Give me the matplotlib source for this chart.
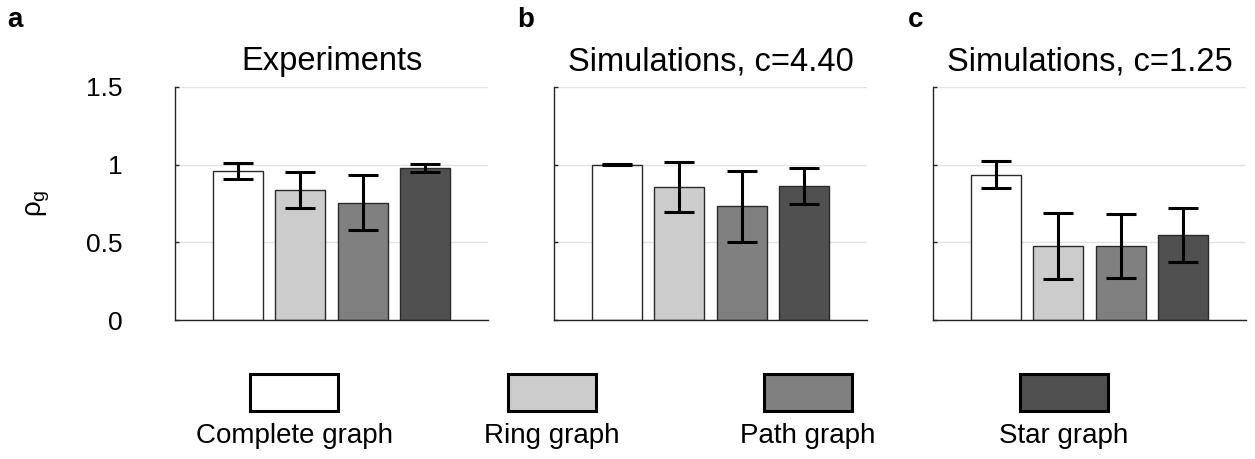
import numpy as np
import matplotlib
matplotlib.use("Agg")
import matplotlib.pyplot as plt
from matplotlib.patches import Rectangle

plt.rcParams["font.family"] = ["Liberation Sans", "DejaVu Sans"]
plt.rcParams["mathtext.fontset"] = "custom"
plt.rcParams["mathtext.rm"] = "Liberation Sans"
plt.rcParams["mathtext.it"] = "Liberation Sans"

GRAPHS = ["Complete graph", "Ring graph", "Path graph", "Star graph"]
COLORS = ["#ffffff", "#cccccc", "#808080", "#505050"]
PANELS = ["a", "b", "c"]
TITLES = ["Experiments", "Simulations, c=4.40", "Simulations, c=1.25"]

# mean rho_g and error half-widths per panel (complete, ring, path, star)
exp_mean = [0.957, 0.837, 0.755, 0.977]
exp_err = [0.052, 0.114, 0.177, 0.025]
sim440_mean = [1.000, 0.856, 0.732, 0.863]
sim440_err = [0.002, 0.159, 0.230, 0.116]
sim125_mean = [0.936, 0.476, 0.476, 0.547]
sim125_err = [0.087, 0.215, 0.207, 0.175]

MEANS = [exp_mean, sim440_mean, sim125_mean]
ERRS = [exp_err, sim440_err, sim125_err]

W, H = 1255, 459
fig = plt.figure(figsize=(W / 100, H / 100), dpi=100)

lefts = [175, 554, 933]
x = np.arange(1, 5)
for i, left in enumerate(lefts):
    ax = fig.add_axes([left / W, (H - 320) / H, 313 / W, 233 / H])
    ax.bar(x, MEANS[i], width=0.8, color=COLORS, edgecolor="#2a2a2a",
           linewidth=1.0, zorder=2)
    ax.errorbar(x, MEANS[i], yerr=ERRS[i], fmt="none", ecolor="black",
                elinewidth=2.2, capsize=11, capthick=2.2, zorder=3)
    ax.set_xlim(0, 5)
    ax.set_ylim(0, 1.5)
    ax.set_yticks([0, 0.5, 1, 1.5])
    ax.set_xticks([])
    ax.grid(axis="y", color="#e3e3e3", linewidth=1.0, zorder=0)
    ax.set_axisbelow(True)
    for s in ("top", "right"):
        ax.spines[s].set_visible(False)
    for s in ("left", "bottom"):
        ax.spines[s].set_color("#262626")
        ax.spines[s].set_linewidth(1.0)
    ax.tick_params(axis="y", direction="in", length=3, width=1.0,
                   color="#262626", pad=38, labelsize=19)
    if i == 0:
        ax.set_yticklabels(["0", "0.5", "1", "1.5"])
        ax.set_ylabel(r"$\rho_\mathrm{g}$", fontsize=20, labelpad=24,
                      rotation=90)
    else:
        ax.set_yticklabels([])
    ax.set_title(TITLES[i], fontsize=23.5, pad=12)

label_x = [7, 517, 908]
for lbl, lx in zip(PANELS, label_x):
    fig.text(lx / W, 1 - 27 / H, lbl, fontsize=20, fontweight="bold",
             va="baseline", ha="left")

# legend drawn in pixel coordinates
leg = fig.add_axes([0, 0, 1, 1], zorder=-1)
leg.set_xlim(0, W)
leg.set_ylim(H, 0)
leg.axis("off")
centers = [294, 552, 808, 1064]
for name, col, cx in zip(GRAPHS, COLORS, centers):
    leg.add_patch(Rectangle((cx - 44, 374), 88, 37, facecolor=col,
                            edgecolor="black", linewidth=2.2))
    leg.text(cx, 443, name, fontsize=20, ha="center", va="baseline")

fig.savefig("out.png", dpi=100)
